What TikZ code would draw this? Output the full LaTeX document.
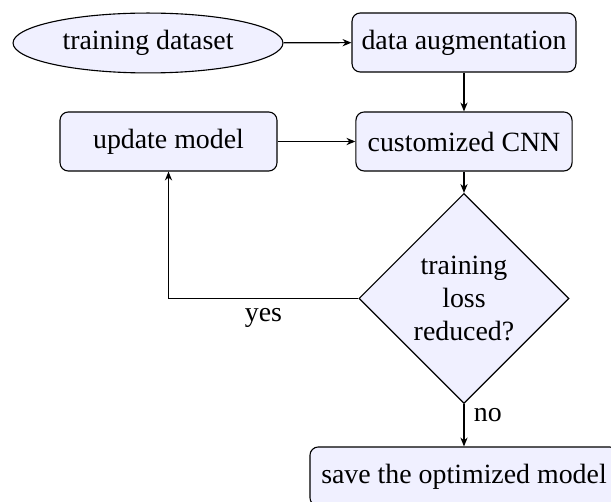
\documentclass[tikz,border=0pt]{standalone}
\usepackage{fontspec}
\setmainfont{Liberation Serif}
\usetikzlibrary{shapes.geometric,arrows.meta}
\definecolor{boxfill}{RGB}{240,240,255}
\tikzset{
  base/.style={draw=black, fill=boxfill, line width=0.4pt, align=center, font=\fontsize{10}{12}\selectfont},
  roundbox/.style={base, rectangle, rounded corners=3pt},
  ellbox/.style={base, ellipse, inner sep=0pt},
  decision/.style={base, diamond, inner sep=0pt, minimum width=75.4pt, minimum height=75.4pt},
  conn/.style={line width=0.4pt, -{Stealth[length=3.2pt,width=2.6pt]}},
  lbl/.style={font=\fontsize{10}{12}\selectfont}
}
\begin{document}
\begin{tikzpicture}[x={(0.359pt,0)}, y={(0,-0.359pt)}]
  \clip (0,0) rectangle (611,502);
  \node[ellbox, minimum width=96.9pt, minimum height=21.5pt] (ds) at (148,43) {training dataset};
  \node[roundbox, minimum width=80.4pt, minimum height=21.2pt] (aug) at (464,42.5) {data augmentation};
  \node[roundbox, minimum width=77.9pt, minimum height=21.2pt] (upd) at (168.5,141.5) {update model};
  \node[roundbox, minimum width=77.6pt, minimum height=21.2pt] (cnn) at (464,141.5) {customized CNN};
  \node[decision] (dia) at (464,298.5) {training\\loss\\reduced?};
  \node[roundbox, minimum width=110.6pt, minimum height=21.2pt] (save) at (464,476.5) {save the optimized model};

  \draw[conn] (ds) -- (aug);
  \draw[conn] (aug) -- (cnn);
  \draw[conn] (upd) -- (cnn);
  \draw[conn] (cnn) -- (dia);
  \draw[conn] (dia.west) -- node[lbl, below, pos=0.5] {yes} (dia.west -| upd.south) -- (upd.south);
  \draw[conn] (dia.south) -- node[lbl, right, pos=0.25] {no} (save.north);
\end{tikzpicture}
\end{document}
